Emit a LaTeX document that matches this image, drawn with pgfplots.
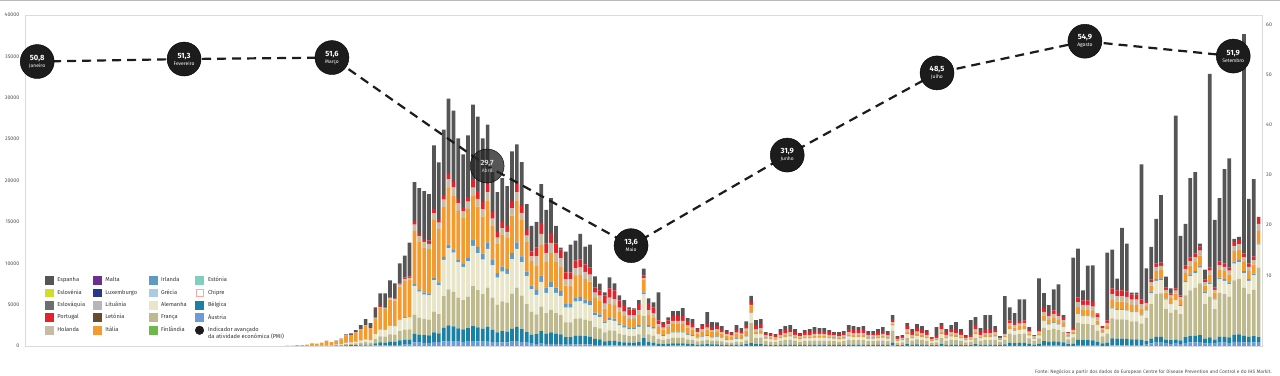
\documentclass[border=0pt]{standalone}
\usepackage{pgfplots}
\usepackage{pgfplotstable}
\pgfplotsset{compat=1.18}
\usepackage{fontspec}
\setmainfont{Fira Sans}
\definecolor{espC}{HTML}{555555}
\definecolor{esloveniaC}{HTML}{D2DE26}
\definecolor{eslovaquiaC}{HTML}{6E6E6E}
\definecolor{porC}{HTML}{E3222B}
\definecolor{holC}{HTML}{C8BBA6}
\definecolor{maltaC}{HTML}{6B2F8E}
\definecolor{luxC}{HTML}{27378A}
\definecolor{lituaniaC}{HTML}{B5B6BA}
\definecolor{letoniaC}{HTML}{6A4A2E}
\definecolor{itaC}{HTML}{F49B2F}
\definecolor{irlC}{HTML}{5D9BC4}
\definecolor{greC}{HTML}{A9CCE3}
\definecolor{aleC}{HTML}{E8E5C9}
\definecolor{fraC}{HTML}{BFBA8E}
\definecolor{finC}{HTML}{6CB84B}
\definecolor{estC}{HTML}{7ECFBE}
\definecolor{belC}{HTML}{1B80A4}
\definecolor{autC}{HTML}{6C9CD8}
\definecolor{pmiC}{HTML}{1C1C1C}
\definecolor{tickC}{HTML}{505050}
\definecolor{frameC}{HTML}{DADADA}
\definecolor{legC}{HTML}{333333}
\newcommand{\pv}[2]{{\fontsize{7.6}{7}\selectfont\bfseries #1}\\#2}
\pgfplotsset{sq/.style={legend image code/.code={\fill[#1] (0bp,-3.85bp) rectangle (7.7bp,3.85bp);}}}
\pgfplotstableread{
i aut bel fra ale irl ita hol por esp
0 0 0 0 0 0 40 0 0 0
1 0 0 0 0 0 60 0 0 0
2 0 0 5 5 0 90 0 0 0
3 0 0 10 10 0 100 0 0 0
4 0 0 15 15 0 150 0 0 0
5 5 5 25 25 0 260 4 0 0
6 5 6 20 20 0 220 5 0 0
7 5 6 30 30 0 320 5 0 0
8 6 12 50 50 0 510 8 0 0
9 5 10 40 40 0 380 5 0 0
10 10 30 70 70 10 390 10 10 40
11 20 40 100 100 10 530 20 10 60
12 30 60 150 150 10 840 30 10 120
13 30 70 160 160 10 870 30 10 180
14 30 80 200 200 20 1090 30 20 240
15 40 100 250 250 20 1330 40 20 480
16 50 130 300 300 30 1640 50 30 720
17 40 110 260 260 20 1400 40 20 600
18 70 240 520 590 30 1840 100 70 1200
19 100 340 720 820 50 2540 140 100 1560
20 90 330 700 800 50 2480 140 90 1680
21 120 410 880 1000 60 3120 180 120 2040
22 120 400 860 980 60 3050 170 120 1800
23 150 530 1130 1290 80 4010 230 150 2400
24 170 580 1240 1410 80 4390 250 170 2640
25 170 590 1260 1430 80 4450 250 170 4080
26 450 1060 2270 3480 300 6350 760 450 4680
27 410 960 2050 3150 270 5750 680 410 5400
28 390 910 1940 2980 260 5440 650 390 5760
29 380 890 1910 2930 250 5340 640 380 5640
30 500 1160 2480 3810 330 6960 830 500 7680
31 460 1080 2300 3530 310 6450 770 460 6840
32 550 1640 3830 4380 360 6020 910 550 7920
33 620 1870 4360 4980 420 6850 1040 620 9120
34 590 1780 4160 4750 400 6530 990 590 8640
35 530 1600 3730 4260 360 5860 890 530 7320
36 500 1510 3530 4030 340 5540 840 500 6360
37 540 1620 3780 4320 360 5940 900 540 7440
38 600 1810 4840 4840 810 5240 1010 1010 9000
39 560 1690 4490 4490 750 4870 940 940 9000
40 520 1570 4180 4180 700 4520 870 870 7680
41 590 1760 4690 4690 780 5090 980 980 7200
42 490 1460 3890 3890 650 4210 810 810 4800
43 410 1240 3310 3310 550 3590 690 690 4800
44 450 1350 3600 3600 600 3900 750 750 5280
45 440 1310 3480 3480 580 3780 730 730 4800
46 530 1580 4200 4200 700 4560 880 880 6000
47 590 1760 4690 4690 780 5090 980 980 4800
48 510 1520 4060 4060 680 4400 850 850 5280
49 420 1260 3370 3370 560 3650 700 700 3120
50 340 1030 2740 2740 460 2960 570 570 3120
51 240 1190 2380 2380 590 2970 1070 1070 3120
52 300 1490 2980 2980 740 3720 1340 1340 4680
53 250 1240 2470 2470 620 3090 1110 1110 4080
54 270 1370 2740 2740 680 3420 1230 1230 4200
55 250 1240 2470 2470 620 3090 1110 1110 2160
56 230 1160 2330 2330 580 2910 1050 1050 240
57 180 890 1780 1780 440 2220 800 800 2520
58 180 890 1780 1780 440 2220 800 800 3360
59 210 1030 2060 2060 520 2580 930 930 2400
60 210 1040 2090 2090 520 2610 940 940 3120
61 200 980 1970 1970 490 2460 890 890 2160
62 190 950 1900 1900 470 2370 850 850 2760
63 140 710 1420 1420 350 1770 640 640 1320
64 130 670 1340 1340 340 1680 600 600 840
65 60 490 1100 1100 240 1530 610 980 360
66 70 560 1250 1250 280 1740 700 1110 1320
67 70 540 1210 1210 270 1680 670 1080 840
68 60 440 990 990 220 1380 550 880 600
69 50 390 890 890 200 1230 490 790 600
70 40 360 800 800 180 1110 440 710 240
71 40 360 800 800 180 1110 440 710 120
72 50 410 930 930 210 1290 520 830 360
73 120 840 2640 2640 240 1560 120 360 840
74 50 410 930 930 210 1290 520 830 600
75 50 370 840 840 190 1170 470 750 600
76 30 250 560 560 120 780 310 500 3360
77 30 210 480 480 110 660 260 420 240
78 30 250 560 560 120 780 310 500 360
79 40 290 650 650 140 900 360 580 600
80 40 290 650 650 140 900 360 580 600
81 40 290 650 650 140 900 360 580 960
82 30 240 540 540 120 750 300 480 360
83 30 210 480 480 110 660 260 420 600
84 20 160 370 370 80 510 200 330 120
85 20 190 430 430 100 600 240 380 240
86 30 210 480 480 110 660 260 420 1440
87 20 180 410 410 90 570 230 370 600
88 20 190 430 430 100 600 240 380 480
89 20 160 370 370 80 510 200 330 360
90 20 130 300 300 70 420 170 270 240
91 20 120 280 280 60 390 160 250 120
92 20 150 350 350 80 480 190 310 600
93 20 140 320 320 70 450 180 290 360
94 30 200 450 450 100 630 250 400 480
95 0 360 2400 1200 60 840 120 360 720
96 30 200 710 450 50 300 300 480 600
97 30 210 740 480 50 320 320 500 600
98 20 120 440 280 30 190 190 300 120
99 10 120 400 260 30 170 170 270 120
100 10 110 370 240 30 160 160 250 120
101 20 130 470 300 30 200 200 320 360
102 20 150 540 350 40 230 230 360 480
103 20 160 570 370 40 240 240 390 480
104 20 130 470 300 30 200 200 320 360
105 10 120 400 260 30 170 170 270 120
106 20 130 470 300 30 200 200 320 240
107 20 130 470 300 30 200 200 320 360
108 20 140 500 320 40 220 220 340 480
109 20 140 500 320 40 220 220 340 360
110 20 140 500 320 40 220 220 340 360
111 20 130 470 300 30 200 200 320 240
112 20 120 440 280 30 190 190 300 120
113 10 120 400 260 30 170 170 270 240
114 20 120 440 280 30 190 190 300 240
115 20 160 570 370 40 240 240 390 480
116 20 150 540 350 40 230 230 360 480
117 20 150 540 350 40 230 230 360 360
118 20 150 540 350 40 230 230 360 480
119 20 120 440 280 30 190 190 300 240
120 20 120 440 280 30 190 190 300 240
121 20 130 470 300 30 200 200 320 360
122 20 140 500 320 40 220 220 340 480
123 20 120 440 280 30 190 190 300 240
124 60 360 1440 600 0 240 180 360 480
125 10 90 300 190 20 130 130 210 120
126 10 100 340 220 20 140 140 230 120
127 30 200 710 450 50 300 300 480 240
128 20 130 470 300 30 200 200 320 360
129 20 170 600 390 40 260 260 410 480
130 20 150 540 350 40 230 230 360 480
131 20 130 470 300 30 200 200 320 240
132 10 90 300 190 20 130 130 210 0
133 10 100 340 220 20 140 140 230 1080
134 30 200 710 450 50 300 300 480 240
135 20 130 470 300 30 200 200 320 360
136 20 160 570 370 40 240 240 390 480
137 20 150 540 350 40 230 230 360 960
138 20 130 470 300 30 200 200 320 360
139 10 100 340 220 20 140 140 230 120
140 10 110 370 240 30 160 160 250 1800
141 30 200 710 450 50 300 300 480 960
142 20 130 470 300 30 200 200 320 480
143 20 150 540 350 40 230 230 360 1800
144 20 150 540 350 40 230 230 360 1800
145 20 160 570 370 40 240 240 390 360
146 10 130 380 180 20 140 110 110 120
147 20 190 550 270 30 200 160 160 4440
148 30 370 1090 530 60 410 310 310 1560
149 30 330 970 470 60 360 280 280 1200
150 30 360 1050 510 60 390 300 300 2640
151 30 370 1090 530 60 410 310 310 2520
152 20 230 670 330 40 250 190 190 360
153 10 160 460 220 30 170 130 130 0
154 20 230 670 330 40 250 190 190 6240
155 50 550 1600 780 90 590 460 460 1800
156 40 480 1390 670 80 510 400 400 960
157 40 520 1510 730 90 560 430 430 2520
158 40 480 1390 670 80 510 400 400 3480
159 30 420 1220 590 70 450 350 350 240
160 20 200 590 290 30 220 170 170 0
161 20 260 760 370 40 280 220 220 8520
162 60 710 2060 1000 120 760 590 590 5880
163 60 660 1930 940 110 720 550 550 1200
164 60 660 1930 940 110 720 550 550 4200
165 50 630 1850 900 110 690 530 530 4440
166 40 460 1340 650 80 500 380 380 120
167 20 290 840 410 50 310 240 240 0
168 30 370 1090 530 60 410 310 310 8160
169 70 840 2440 1180 140 900 700 700 4680
170 70 810 2350 1140 130 870 670 670 1440
171 70 810 2350 1140 130 870 670 670 7560
172 70 790 2310 1120 130 860 660 660 5760
173 60 750 2180 1060 120 810 620 620 240
174 60 750 2180 1060 120 810 620 620 240
175 60 680 1970 960 110 730 560 560 16320
176 220 380 2810 860 110 540 270 220 3960
177 320 560 4180 1290 160 800 400 320 3960
178 400 700 5180 1590 200 1000 500 400 5400
179 400 710 5240 1610 200 1010 500 400 8160
180 280 500 3680 1130 140 710 350 280 1320
181 250 450 3310 1020 130 640 320 250 600
182 280 490 3620 1110 140 700 350 280 20880
183 240 430 3180 980 120 610 310 240 7200
184 390 680 5050 1560 190 970 490 390 5040
185 430 750 5550 1710 210 1070 530 430 9600
186 450 780 5800 1790 220 1120 560 450 9840
187 480 840 6240 1920 240 1200 600 480 360
188 320 560 4180 1290 160 800 400 320 1200
189 380 660 4930 1520 190 950 470 380 23400
190 280 500 3680 1130 140 710 350 280 8160
191 410 710 5300 1630 200 1020 510 410 7680
192 400 700 5180 1590 200 1000 500 400 11400
193 380 660 4930 1520 190 950 470 380 13200
194 500 880 6550 2020 250 1260 630 500 360
195 510 900 6680 2050 260 1280 640 510 360
196 450 780 5800 1790 220 1120 560 450 26520
197 400 700 5180 1590 200 1000 500 400 7800
198 430 760 5620 1730 220 1080 540 430 9360
199 480 600 8400 2760 120 1560 840 840 0
}\cases
\begin{document}
\begin{tikzpicture}
\useasboundingbox (0,0) rectangle (1280bp,376bp);
\draw[gray!55, line width=1bp] (0,375.5bp) -- (1280bp,375.5bp);
\begin{axis}[
  at={(25bp,30bp)}, anchor=south west,
  width=1237bp, height=331bp, scale only axis,
  xmin=-53.8, xmax=199.7, ymin=0, ymax=40000,
  ybar stacked, bar width=0.76,
  xtick=\empty,
  ytick={0,5000,...,40000},
  scaled y ticks=false,
  /pgf/number format/assume math mode=true,
  /pgf/number format/set thousands separator={},
  yticklabel style={font=\fontsize{5.3}{6}\selectfont, text=tickC, inner sep=0pt, xshift=-5.5bp},
  major tick length=0pt,
  axis line style={draw=frameC, line width=0.8bp},
  legend columns=4,
  legend cell align=left,
  legend style={at={(0.0162,0.2115)}, anchor=north west, draw=none, fill=none,
    inner sep=0pt, row sep=4.3bp,
    nodes={inner sep=0pt, font=\fontsize{5.7}{6.8}\selectfont, text=legC},
    /tikz/every odd column/.style={column sep=4bp},
    /tikz/every even column/.style={column sep=0bp}},
]
\addplot[fill=autC, draw=none, forget plot] table[x=i, y=aut]{\cases};
\addplot[fill=belC, draw=none, forget plot] table[x=i, y=bel]{\cases};
\addplot[fill=fraC, draw=none, forget plot] table[x=i, y=fra]{\cases};
\addplot[fill=aleC, draw=none, forget plot] table[x=i, y=ale]{\cases};
\addplot[fill=irlC, draw=none, forget plot] table[x=i, y=irl]{\cases};
\addplot[fill=itaC, draw=none, forget plot] table[x=i, y=ita]{\cases};
\addplot[fill=holC, draw=none, forget plot] table[x=i, y=hol]{\cases};
\addplot[fill=porC, draw=none, forget plot] table[x=i, y=por]{\cases};
\addplot[fill=espC, draw=none, forget plot] table[x=i, y=esp]{\cases};
% legend, row by row
\addlegendimage{sq=espC}\addlegendentry{\makebox[36bp][l]{Espanha}}
\addlegendimage{sq=maltaC}\addlegendentry{\makebox[43.5bp][l]{Malta}}
\addlegendimage{sq=irlC}\addlegendentry{\makebox[34bp][l]{Irlanda}}
\addlegendimage{sq=estC}\addlegendentry{Estónia}
\addlegendimage{sq=esloveniaC}\addlegendentry{\makebox[36bp][l]{Eslovénia}}
\addlegendimage{sq=luxC}\addlegendentry{\makebox[43.5bp][l]{Luxemburgo}}
\addlegendimage{sq=greC}\addlegendentry{\makebox[34bp][l]{Grécia}}
\addlegendimage{legend image code/.code={\draw[red!35, fill=white, line width=0.4bp] (0.2bp,-3.65bp) rectangle (7.5bp,3.65bp);}}\addlegendentry{Chipre}
\addlegendimage{sq=eslovaquiaC}\addlegendentry{\makebox[36bp][l]{Eslováquia}}
\addlegendimage{sq=lituaniaC}\addlegendentry{\makebox[43.5bp][l]{Lituânia}}
\addlegendimage{sq=aleC}\addlegendentry{\makebox[34bp][l]{Alemanha}}
\addlegendimage{sq=belC}\addlegendentry{Bélgica}
\addlegendimage{sq=porC}\addlegendentry{\makebox[36bp][l]{Portugal}}
\addlegendimage{sq=letoniaC}\addlegendentry{\makebox[43.5bp][l]{Letónia}}
\addlegendimage{sq=fraC}\addlegendentry{\makebox[34bp][l]{França}}
\addlegendimage{sq=autC}\addlegendentry{Áustria}
\addlegendimage{sq=holC}\addlegendentry{\makebox[36bp][l]{Holanda}}
\addlegendimage{sq=itaC}\addlegendentry{\makebox[43.5bp][l]{Itália}}
\addlegendimage{sq=finC}\addlegendentry{\makebox[34bp][l]{Finlândia}}
\addlegendimage{legend image code/.code={\fill[pmiC] (3.85bp,0bp) circle (4.3bp);}}\addlegendentry{\begin{tabular}[t]{@{}l@{}}Indicador avançado\\da atividade económica (PMI)\end{tabular}}
\end{axis}
\begin{axis}[
  at={(25bp,30bp)}, anchor=south west,
  width=1237bp, height=331bp, scale only axis,
  xmin=-53.8, xmax=199.7, ymin=-6.67, ymax=60.2,
  axis x line=none, axis y line*=right, axis line style={draw=none},
  ytick={7.47,17.78,27.88,37.98,48.08,58.18},
  yticklabels={10,20,30,40,50,60},
  yticklabel style={font=\fontsize{5.3}{6}\selectfont, text=tickC, inner sep=0pt, xshift=4bp},
  major tick length=0pt,
  clip=false,
]
\addplot[pmiC, line width=2.2bp, dash pattern=on 9bp off 6bp] coordinates {
(-51.3,50.8) (-21.2,51.3) (9.1,51.6) (40.9,29.7) (70.4,13.6) (102.4,31.9) (133.1,48.5) (163.4,54.9) (193.8,51.9)};
\addplot[only marks, mark=*, mark size=17bp, mark options={fill=pmiC, draw=none},
  point meta=explicit symbolic, nodes near coords,
  every node near coord/.style={anchor=center, text=white, align=center, inner sep=0pt, font=\fontsize{5}{7}\selectfont}]
  coordinates {
(-51.3,50.8) [\pv{50,8}{Janeiro}]
(-21.2,51.3) [\pv{51,3}{Fevereiro}]
(9.1,51.6) [\pv{51,6}{Março}]
(70.4,13.6) [\pv{13,6}{Maio}]
(102.4,31.9) [\pv{31,9}{Junho}]
(133.1,48.5) [\pv{48,5}{Julho}]
(163.4,54.9) [\pv{54,9}{Agosto}]
(193.8,51.9) [\pv{51,9}{Setembro}]
};
\addplot[only marks, mark=*, mark size=17bp, mark options={fill=black!85, fill opacity=0.78, draw=none},
  point meta=explicit symbolic, nodes near coords,
  every node near coord/.style={anchor=center, text=white, align=center, inner sep=0pt, font=\fontsize{5}{7}\selectfont}]
  coordinates {(40.9,29.7) [\pv{29,7}{Abril}]};
\end{axis}
\node[anchor=base east, inner sep=0pt, font=\fontsize{4.9}{5.5}\selectfont, text=tickC] at (1272bp,2.5bp)
  {Fonte: Negócios a partir dos dados do European Centre for Disease Prevention and Control e do IHS Markit.};
\end{tikzpicture}
\end{document}
